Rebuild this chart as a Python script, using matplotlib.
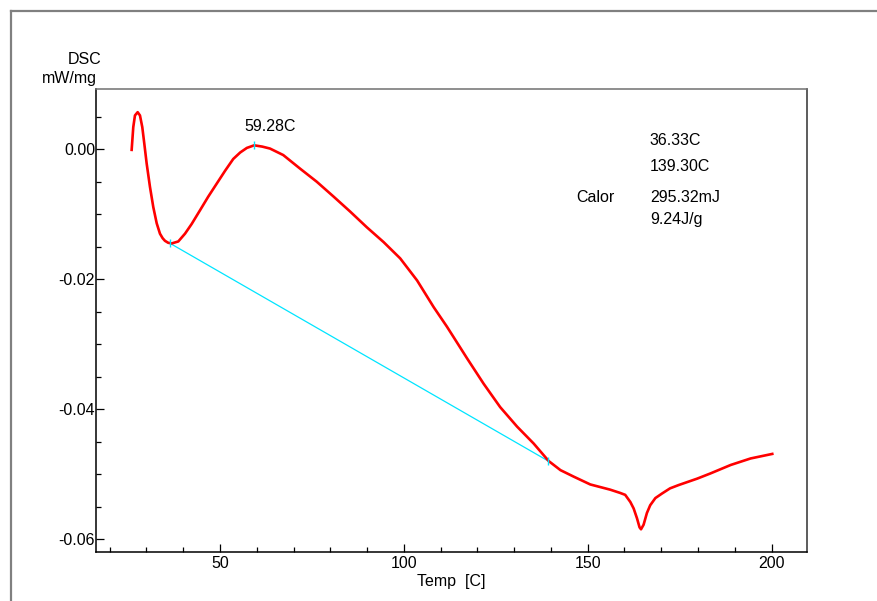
import numpy as np
import matplotlib.pyplot as plt
from matplotlib.lines import Line2D

plt.rcParams['font.family'] = ['Liberation Sans', 'DejaVu Sans']
plt.rcParams['font.size'] = 11.5

# DSC curve
temp = [25.97, 26.41, 26.87, 27.6, 28.23, 28.86, 29.4, 30.05, 30.95, 31.85,
        32.78, 33.67, 34.4, 35.03, 35.9, 36.86, 38.65, 40.48, 42.3, 44.56,
        46.8, 49.1, 51.4, 53.6, 55.5, 57.3, 59.3, 61.5, 63.6, 67.2, 71.8,
        76.3, 80.9, 85.4, 89.9, 94.5, 99.0, 103.6, 108.1, 111.7, 113.5,
        117.2, 121.7, 126.2, 130.8, 135.3, 139.4, 142.6, 146.2, 150.7, 153.4,
        156.1, 158.8, 160.2, 161.6, 162.5, 163.4, 164.1, 164.5, 165.2, 166.1,
        167.0, 168.4, 170.2, 172.4, 174.7, 179.8, 183.4, 188.9, 194.3, 200.2]
dsc = [-0.0001, 0.0034, 0.0052, 0.0057, 0.0052, 0.0034, 0.0009, -0.0022,
       -0.0058, -0.0089, -0.0114, -0.0130, -0.0137, -0.0141, -0.0144, -0.0145,
       -0.0142, -0.0130, -0.0115, -0.0094, -0.0073, -0.0053, -0.0033, -0.0015,
       -0.0005, 0.0002, 0.0006, 0.0004, 0.0001, -0.0009, -0.0030, -0.0050,
       -0.0073, -0.0096, -0.0120, -0.0143, -0.0168, -0.0202, -0.0243, -0.0273,
       -0.0289, -0.0322, -0.0361, -0.0397, -0.0427, -0.0453, -0.0480, -0.0494,
       -0.0504, -0.0516, -0.0520, -0.0524, -0.0529, -0.0532, -0.0543, -0.0553,
       -0.0568, -0.0582, -0.0585, -0.0578, -0.0560, -0.0548, -0.0537, -0.0530,
       -0.0522, -0.0517, -0.0507, -0.0499, -0.0486, -0.0476, -0.0469]

onset_t, onset_v = 36.33, -0.01446
end_t, end_v = 139.30, -0.0480
peak_t, peak_v = 59.28, 0.0006

fig = plt.figure(figsize=(8.77, 6.01), dpi=100)
ax = fig.add_axes([0.110, 0.0815, 0.810, 0.770])

ax.plot(temp, dsc, color='red', lw=1.9, zorder=3)
ax.plot([onset_t, end_t], [onset_v, end_v], color='#00e5ff', lw=0.9, zorder=2)
ax.plot([onset_t, end_t, peak_t], [onset_v, end_v, peak_v], ls='none',
        marker='|', ms=6, mew=1.0, color='#00e5ff', zorder=4)

ax.set_xlim(16.4, 209.6)
ax.set_ylim(-0.0620, 0.00923)
ax.set_xticks([50, 100, 150, 200])
ax.set_xticks(np.arange(20, 210, 10), minor=True)
ax.set_yticks([0.0, -0.02, -0.04, -0.06])
ax.set_yticklabels(['0.00', '-0.02', '-0.04', '-0.06'])
ax.set_yticks(np.arange(-0.06, 0.006, 0.005), minor=True)
ax.tick_params(which='both', direction='in', width=0.9)
ax.tick_params(which='major', length=6)
ax.tick_params(which='minor', length=3.5)
ax.tick_params(axis='y', pad=1)
ax.tick_params(axis='x', pad=3)

for s in ['left', 'bottom']:
    ax.spines[s].set_color('black')
ax.spines['top'].set_color('#707070')
ax.spines['right'].set_color('#303030')
for s in ax.spines.values():
    s.set_linewidth(1.1)

ax.text(56.5, 0.0035, '59.28C', ha='left', va='center')
ax.text(0.779, 0.890, '36.33C', transform=ax.transAxes, va='center')
ax.text(0.779, 0.832, '139.30C', transform=ax.transAxes, va='center')
ax.text(0.676, 0.767, 'Calor', transform=ax.transAxes, va='center')
ax.text(0.779, 0.767, '295.32mJ', transform=ax.transAxes, va='center')
ax.text(0.779, 0.719, '9.24J/g', transform=ax.transAxes, va='center')

fig.text(101.7 / 877, 1 - 60 / 601, 'DSC', ha='right', va='center')
fig.text(96.7 / 877, 1 - 79 / 601, 'mW/mg', ha='right', va='center')
fig.text(451.7 / 877, 1 - 581.7 / 601, 'Temp  [C]', ha='center', va='center')

# outer frame (cut off at right and bottom)
fig.add_artist(Line2D([10.5 / 877, 1.0], [1 - 10.5 / 601] * 2, color='#808080', lw=1.6))
fig.add_artist(Line2D([10.5 / 877] * 2, [0, 1 - 10.5 / 601], color='#808080', lw=1.6))

fig.savefig('out.png', dpi=100)
